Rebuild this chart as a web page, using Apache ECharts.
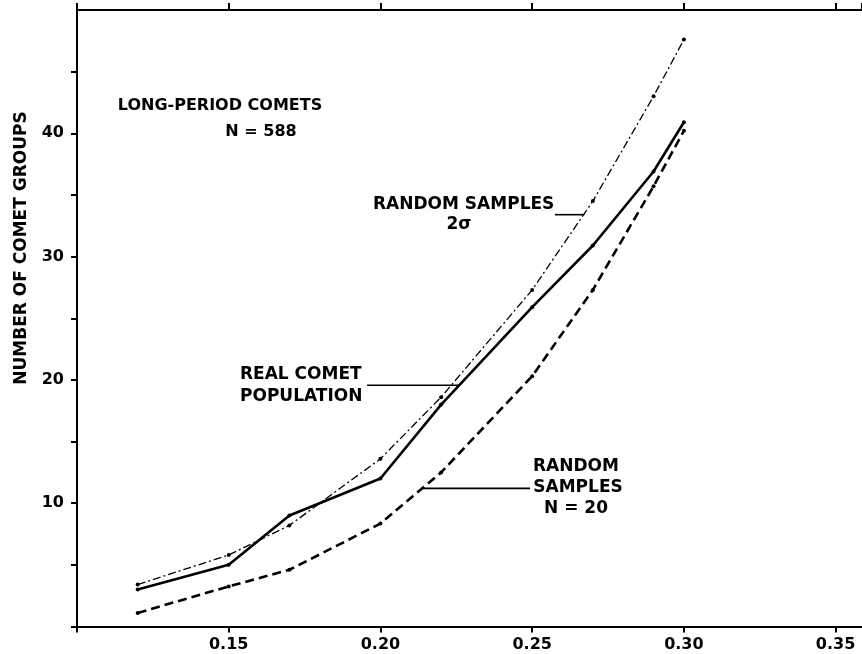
<!DOCTYPE html>
<html>
<head>
<meta charset="utf-8">
<script src="https://cdn.jsdelivr.net/npm/echarts@6/dist/echarts.min.js"></script>
<style>
html,body{margin:0;padding:0;background:#fff;}
#c{width:862px;height:654px;}
</style>
</head>
<body>
<div id="c"></div>
<script>
// ---- data ----
var xValues = [0.12, 0.15, 0.17, 0.20, 0.22, 0.25, 0.27, 0.29, 0.30];
var realComets = [3.0, 5.0, 9.0, 12.0, 18.0, 25.9, 30.9, 36.9, 40.9];
var random2Sigma = [3.4, 5.8, 8.2, 13.6, 18.6, 27.3, 34.5, 43.0, 47.6];
var randomN20 = [1.1, 3.25, 4.6, 8.35, 12.5, 20.3, 27.3, 35.7, 40.2];
var xTickLabels = ['0.15', '0.20', '0.25', '0.30', '0.35'];
var yTickLabels = ['10', '20', '30', '40'];

function pairs(ys) { return xValues.map(function (x, i) { return [x, ys[i]]; }); }

var FONT = '"DejaVu Sans", sans-serif';
var chart = echarts.init(document.getElementById('c'), null, {renderer: 'canvas'});

function fmtX(v) {
  var s = v.toFixed(2);
  return xTickLabels.indexOf(s) >= 0 && Math.abs(v - parseFloat(s)) < 1e-6 ? s : '';
}
function fmtY(v) {
  var s = String(Math.round(v));
  return yTickLabels.indexOf(s) >= 0 && Math.abs(v - Math.round(v)) < 1e-6 ? s : '';
}

var axisLine = {show: true, lineStyle: {color: '#000', width: 2}};
var option = {
  animation: false,
  backgroundColor: '#fff',
  grid: {left: 77, right: 0, top: 10, bottom: 27.5, containLabel: false},
  xAxis: [
    {type: 'value', position: 'bottom', min: 0.10, max: 0.3587, interval: 0.05,
     axisLine: axisLine, splitLine: {show: false},
     axisTick: {show: true, length: 6, inside: false, lineStyle: {color: '#000', width: 2}},
     axisLabel: {show: true, formatter: fmtX, showMaxLabel: false, margin: 10,
                 fontFamily: FONT, fontWeight: 'bold', fontSize: 16, color: '#000'}},
    {type: 'value', position: 'top', min: 0.10, max: 0.3587, interval: 0.05,
     axisLine: axisLine, splitLine: {show: false},
     axisTick: {show: true, length: 7, inside: false, lineStyle: {color: '#000', width: 2}},
     axisLabel: {show: false}}
  ],
  yAxis: [
    {type: 'value', min: 0, max: 50, interval: 5,
     axisLine: axisLine, splitLine: {show: false},
     axisTick: {show: true, length: 6, inside: false, lineStyle: {color: '#000', width: 2}},
     axisLabel: {show: true, formatter: fmtY, margin: 13, showMaxLabel: false,
                 fontFamily: FONT, fontWeight: 'bold', fontSize: 16, color: '#000'}}
  ],
  series: [
    {name: 'Random samples 2σ', type: 'line', data: pairs(random2Sigma),
     symbol: 'circle', symbolSize: 4, itemStyle: {color: '#000'},
     lineStyle: {color: '#000', width: 1.3, type: [8, 3, 2, 3]}},
    {name: 'Real comet population', type: 'line', data: pairs(realComets),
     symbol: 'circle', symbolSize: 4, itemStyle: {color: '#000'},
     lineStyle: {color: '#000', width: 2.6, type: 'solid'}},
    {name: 'Random samples N = 20', type: 'line', data: pairs(randomN20),
     symbol: 'circle', symbolSize: 4, itemStyle: {color: '#000'},
     lineStyle: {color: '#000', width: 2.6, type: [9, 5]}}
  ]
};
chart.setOption(option);

function P(x, y) { return chart.convertToPixel({gridIndex: 0}, [x, y]); }
function txt(str, x, y, align, size) {
  return {type: 'text', style: {text: str, x: x, y: y, align: align || 'left', verticalAlign: 'middle',
          font: 'bold ' + (size || 17) + 'px ' + FONT, fill: '#000'}};
}
function seg(a, b) {
  var p1 = P(a[0], a[1]), p2 = P(b[0], b[1]);
  return {type: 'line', shape: {x1: p1[0], y1: p1[1], x2: p2[0], y2: p2[1]},
          style: {stroke: '#000', lineWidth: 1.6}};
}

var g = [
  txt('LONG-PERIOD COMETS', 220, 106, 'center', 16),
  txt('N = 588', 261, 132, 'center', 16),
  txt('RANDOM SAMPLES', 373, 205, 'left', 17),
  txt('2σ', 459, 225, 'center', 17),
  txt('REAL COMET', 240, 375, 'left', 17),
  txt('POPULATION', 240, 397, 'left', 17),
  txt('RANDOM', 576, 467, 'center', 17),
  txt('SAMPLES', 578, 488, 'center', 17),
  txt('N = 20', 576, 509, 'center', 17),
  seg([0.1956, 19.57], [0.2262, 19.57]),
  seg([0.2575, 33.4], [0.2672, 33.4]),
  seg([0.2140, 11.2], [0.2493, 11.2]),
  {type: 'text', rotation: Math.PI / 2, x: 22, y: 248,
   style: {text: 'NUMBER OF COMET GROUPS', x: 0, y: 0, align: 'center', verticalAlign: 'middle',
           font: 'bold 17px ' + FONT, fill: '#000'}}
];
chart.setOption({graphic: g});
</script>
</body>
</html>
